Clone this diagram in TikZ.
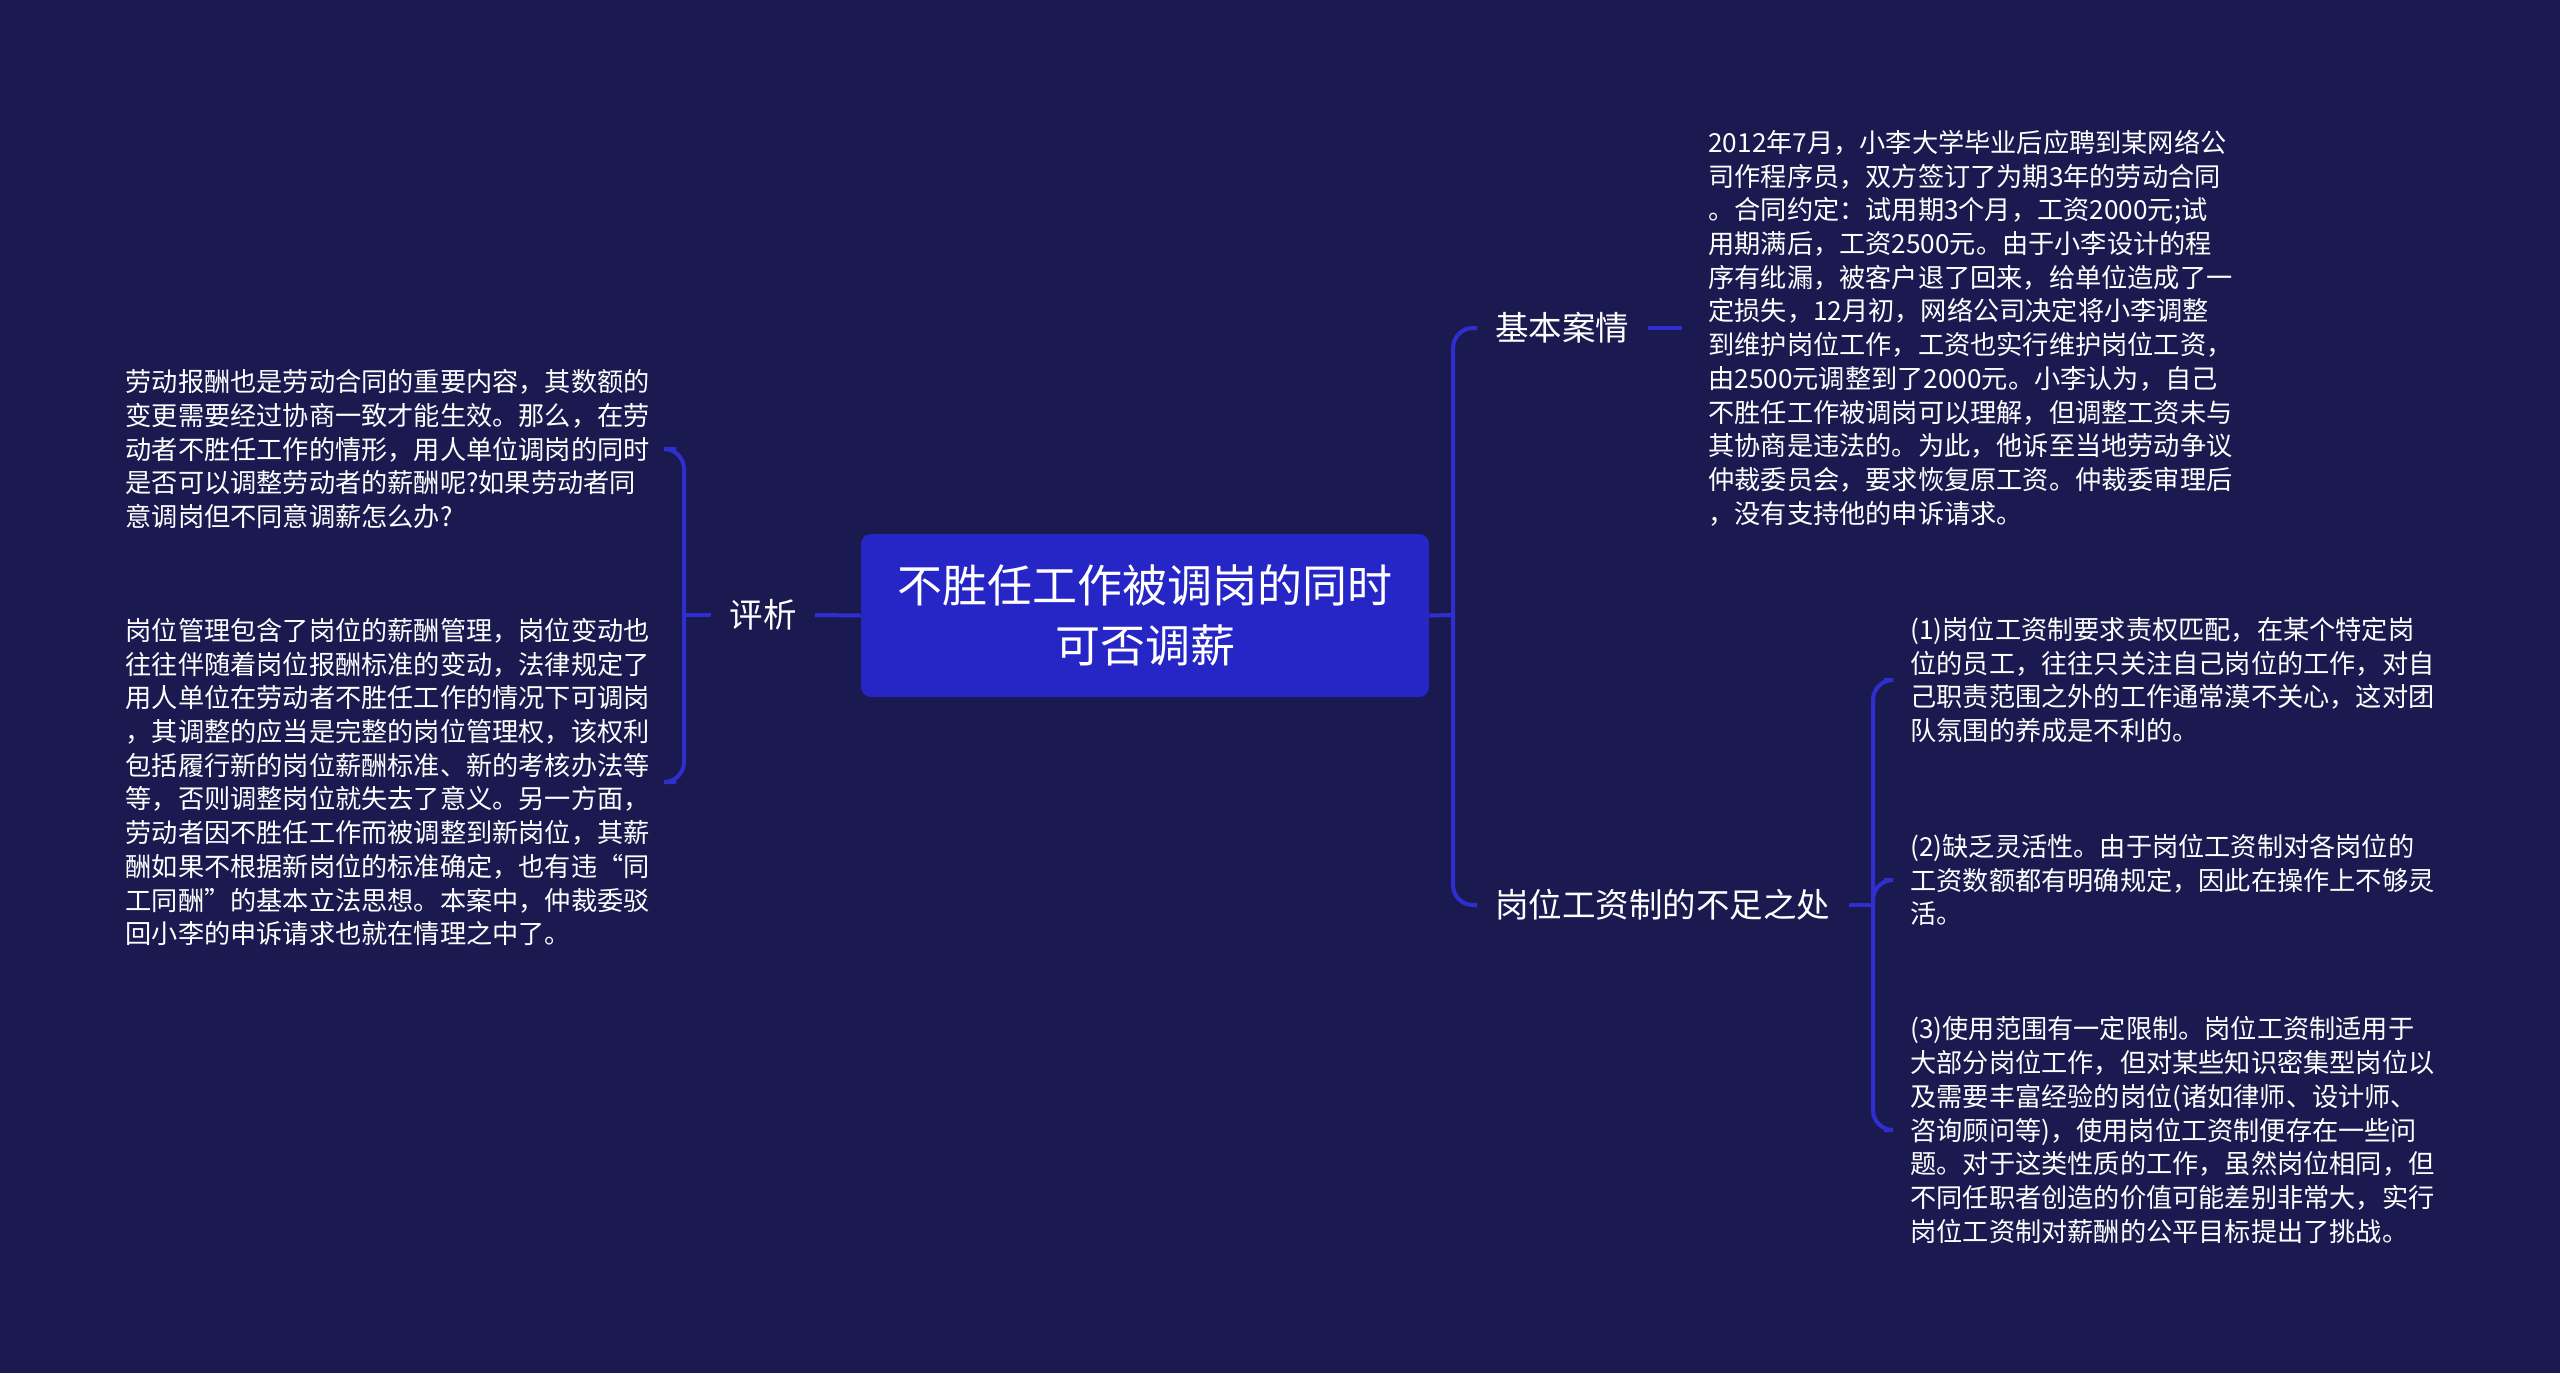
\documentclass[tikz,border=0pt]{standalone}
\usepackage{fontspec}
\setmainfont{Noto Sans CJK SC}
\definecolor{bg}{HTML}{1B1A50}
\definecolor{nodefill}{HTML}{2626C6}
\definecolor{conncol}{HTML}{2F2FCF}
\tikzset{
  conn/.style={draw=conncol, line width=2pt, rounded corners=10pt},
  rootbox/.style={fill=nodefill, rounded corners=5pt, minimum width=284pt, minimum height=81.5pt, text=white, align=center, font=\fontsize{22.5}{30}\selectfont, inner sep=0pt},
  label/.style={text=white, font=\fontsize{16.75}{20}\selectfont, inner xsep=9pt, inner ysep=4pt},
  leaf/.style={text=white, align=left, font=\fontsize{13.1}{16.85}\selectfont, inner sep=0pt},
}
\begin{document}
\begin{tikzpicture}[x=0.5pt,y=-0.5pt]
\fill[bg] (0,0) rectangle (2560,1373);
\useasboundingbox (0,0) rectangle (2560,1373);

\node[rootbox] (root) at (1145,615.5) {不胜任工作被调岗的同时\\可否调薪};

% left branch
\node[label, anchor=east] (pingxi) at (815,615) {评析};
\node[leaf, anchor=east] (la) at (650,449) {劳动报酬也是劳动合同的重要内容，其数额的\\变更需要经过协商一致才能生效。那么，在劳\\动者不胜任工作的情形，用人单位调岗的同时\\是否可以调整劳动者的薪酬呢?如果劳动者同\\意调岗但不同意调薪怎么办?};
\node[leaf, anchor=east] (lb) at (650,782) {岗位管理包含了岗位的薪酬管理，岗位变动也\\往往伴随着岗位报酬标准的变动，法律规定了\\用人单位在劳动者不胜任工作的情况下可调岗\\，其调整的应当是完整的岗位管理权，该权利\\包括履行新的岗位薪酬标准、新的考核办法等\\等，否则调整岗位就失去了意义。另一方面，\\劳动者因不胜任工作而被调整到新岗位，其薪\\酬如果不根据新岗位的标准确定，也有违“同\\工同酬”的基本立法思想。本案中，仲裁委驳\\回小李的申诉请求也就在情理之中了。};

\coordinate (lj) at (684,615);
\draw[conn] (root.west) -- (pingxi.east);
\draw[conn] (pingxi.west) -- (lj);
\draw[conn] (lj) |- ([xshift=13]la.east);
\draw[conn] (lj) |- ([xshift=13]lb.east);

% right branch
\node[label, anchor=west] (case) at (1477,328) {基本案情};
\node[label, anchor=west] (lack) at (1477,905) {岗位工资制的不足之处};
\coordinate (rj) at (1453,615);
\draw[conn] (root.east) -- (rj);
\draw[conn] (rj) |- (case.west);
\draw[conn] (rj) |- (lack.west);

\node[leaf, anchor=west] (casetxt) at (1708,328) {2012年7月，小李大学毕业后应聘到某网络公\\司作程序员，双方签订了为期3年的劳动合同\\。合同约定：试用期3个月，工资2000元;试\\用期满后，工资2500元。由于小李设计的程\\序有纰漏，被客户退了回来，给单位造成了一\\定损失，12月初，网络公司决定将小李调整\\到维护岗位工作，工资也实行维护岗位工资，\\由2500元调整到了2000元。小李认为，自己\\不胜任工作被调岗可以理解，但调整工资未与\\其协商是违法的。为此，他诉至当地劳动争议\\仲裁委员会，要求恢复原工资。仲裁委审理后\\，没有支持他的申诉请求。};
\draw[conn] (case.east) -- ([xshift=-13]casetxt.west);

\node[leaf, anchor=west] (p1) at (1910,680) {(1)岗位工资制要求责权匹配，在某个特定岗\\位的员工，往往只关注自己岗位的工作，对自\\己职责范围之外的工作通常漠不关心，这对团\\队氛围的养成是不利的。};
\node[leaf, anchor=west] (p2) at (1910,880) {(2)缺乏灵活性。由于岗位工资制对各岗位的\\工资数额都有明确规定，因此在操作上不够灵\\活。};
\node[leaf, anchor=west] (p3) at (1910,1130) {(3)使用范围有一定限制。岗位工资制适用于\\大部分岗位工作，但对某些知识密集型岗位以\\及需要丰富经验的岗位(诸如律师、设计师、\\咨询顾问等)，使用岗位工资制便存在一些问\\题。对于这类性质的工作，虽然岗位相同，但\\不同任职者创造的价值可能差别非常大，实行\\岗位工资制对薪酬的公平目标提出了挑战。};

\coordinate (kj) at (1873,905);
\draw[conn] (lack.east) -- (kj);
\draw[conn] (kj) |- ([xshift=-13]p1.west);
\draw[conn] (kj) |- ([xshift=-13]p2.west);
\draw[conn] (kj) |- ([xshift=-13]p3.west);
\end{tikzpicture}
\end{document}
